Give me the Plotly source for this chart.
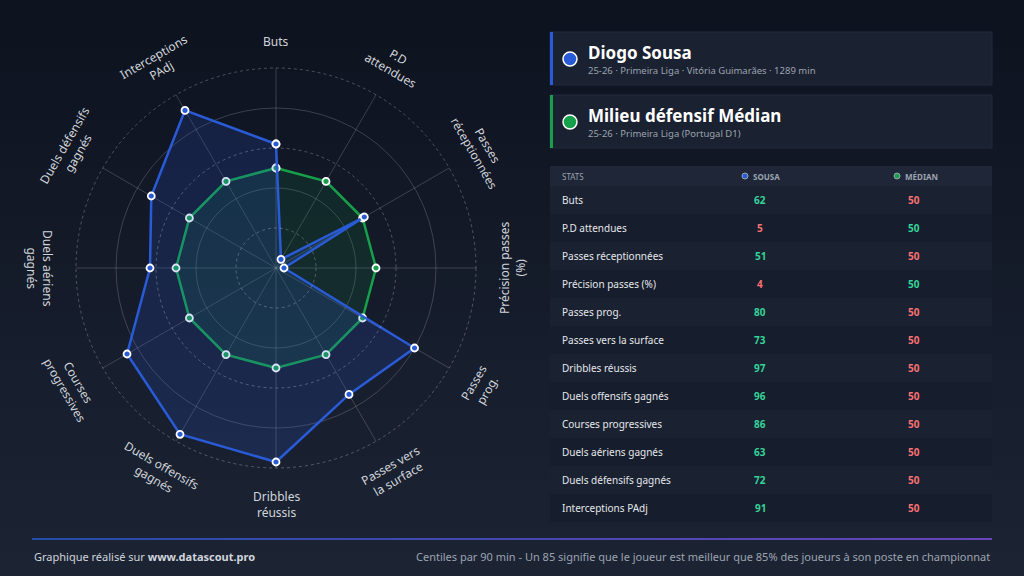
import math
import plotly.graph_objects as go

categories = ["Buts", "P.D attendues", "Passes réceptionnées", "Précision passes (%)", "Passes prog.",
              "Passes vers la surface", "Dribbles réussis", "Duels offensifs gagnés", "Courses progressives",
              "Duels aériens gagnés", "Duels défensifs gagnés", "Interceptions PAdj"]
radar_labels = ["Buts", "P.D<br>attendues", "Passes<br>réceptionnées", "Précision passes<br>(%)", "Passes<br>prog.",
                "Passes vers<br>la surface", "Dribbles<br>réussis", "Duels offensifs<br>gagnés", "Courses<br>progressives",
                "Duels aériens<br>gagnés", "Duels défensifs<br>gagnés", "Interceptions<br>PAdj"]
sousa = [62, 5, 51, 4, 80, 73, 97, 96, 86, 63, 72, 91]
median = [50] * 12

BLUE = "#2a5bd7"
GREEN = "#16a04a"
W, H = 1024, 576
cx, cy, R = 276, 268, 200

fig = go.Figure()
theta = categories + [categories[0]]
fig.add_trace(go.Scatterpolar(r=median + [median[0]], theta=theta, mode="lines+markers",
    line=dict(color=GREEN, width=2.5), fill="toself", fillcolor="rgba(22,160,74,0.13)",
    marker=dict(size=7, color=GREEN, line=dict(color="white", width=1.8)), showlegend=False))
fig.add_trace(go.Scatterpolar(r=sousa + [sousa[0]], theta=theta, mode="lines+markers",
    line=dict(color=BLUE, width=2.5), fill="toself", fillcolor="rgba(42,91,215,0.18)",
    marker=dict(size=7, color=BLUE, line=dict(color="white", width=1.8)), showlegend=False))

fig.update_layout(
    width=W, height=H, margin=dict(l=0, r=0, t=0, b=0),
    paper_bgcolor="#121827", plot_bgcolor="rgba(0,0,0,0)",
    font=dict(family="Noto Sans", color="#e5e7eb"),
    polar=dict(
        domain=dict(x=[(cx - R) / W, (cx + R) / W], y=[1 - (cy + R) / H, 1 - (cy - R) / H]),
        bgcolor="rgba(0,0,0,0)",
        radialaxis=dict(range=[0, 100], showticklabels=False, ticks="", showline=False,
                        tickvals=[40, 80], gridcolor="rgba(255,255,255,0.18)", gridwidth=1),
        angularaxis=dict(direction="clockwise", rotation=90, showticklabels=False, ticks="",
                         showline=False, gridcolor="rgba(255,255,255,0.18)"),
    ),
)

shapes = []
for i in range(24):
    t = i / 23
    c = (int(14 + 14 * t), int(19 + 17 * t), int(32 + 20 * t))
    shapes.append(dict(type="rect", xref="paper", yref="paper", x0=0, x1=1, y0=1 - (i + 1) / 24, y1=1 - i / 24,
                       fillcolor="rgb(%d,%d,%d)" % c, line=dict(width=0), layer="below"))
for rr in [20, 60, 100]:
    r = R * rr / 100
    shapes.append(dict(type="circle", xref="paper", yref="paper",
                       x0=(cx - r) / W, x1=(cx + r) / W, y0=1 - (cy + r) / H, y1=1 - (cy - r) / H,
                       line=dict(color="rgba(255,255,255,0.25)", width=1, dash="dot")))

def rect(x0, y0, x1, y1, color, line=None):
    shapes.append(dict(type="rect", xref="paper", yref="paper", x0=x0 / W, x1=x1 / W,
                       y0=1 - y1 / H, y1=1 - y0 / H, fillcolor=color,
                       line=dict(width=0) if line is None else line))

ann = []
def text(x, y, s, size=11, color="#e5e7eb", anchor="left", angle=0, family="Noto Sans"):
    ann.append(dict(x=x / W, y=1 - y / H, xref="paper", yref="paper", text=s, showarrow=False,
                    xanchor=anchor, yanchor="middle", textangle=angle,
                    font=dict(size=size, color=color, family=family)))

for i, lab in enumerate(radar_labels):
    th = i * 30
    lines = lab.count("<br>") + 1
    rl = 226 if lines == 1 else 236
    x = cx + rl * math.sin(math.radians(th))
    y = cy - rl * math.cos(math.radians(th))
    if th < 90:
        ang = th
    elif th <= 270:
        ang = th - 180
    else:
        ang = th - 360
    ann.append(dict(x=x / W, y=1 - y / H, xref="paper", yref="paper", text=lab, showarrow=False,
                    xanchor="center", yanchor="middle", textangle=ang,
                    font=dict(size=12, color="#d1d5db")))

for (y0, col, title, sub) in [(32, BLUE, "Diogo Sousa", "25-26 · Primeira Liga · Vitória Guimarães · 1289 min"),
                              (95, GREEN, "Milieu défensif Médian", "25-26 · Primeira Liga (Portugal D1)")]:
    rect(550, y0, 992, y0 + 53, "#1a2131", line=dict(color="#232b3c", width=1))
    rect(550, y0, 553, y0 + 53, col)
    shapes.append(dict(type="circle", xref="paper", yref="paper", x0=563 / W, x1=577 / W,
                       y0=1 - (y0 + 34) / H, y1=1 - (y0 + 20) / H, fillcolor=col,
                       line=dict(color="white", width=1.5)))
    text(586, y0 + 20, "<b>" + title + "</b>", size=17, color="#ffffff")
    text(586, y0 + 38, sub, size=9.5, color="#9ca3af")

rect(550, 166, 992, 186, "#1e2637")
text(560, 176, "STATS", size=8, color="#9ca3af")
shapes.append(dict(type="circle", xref="paper", yref="paper", x0=742 / W, x1=748 / W,
                   y0=1 - 179 / H, y1=1 - 173 / H, fillcolor=BLUE, line=dict(color="#9ca3af", width=1)))
text(751, 176, "<b>SOUSA</b>", size=8, color="#9ca3af")
shapes.append(dict(type="circle", xref="paper", yref="paper", x0=894 / W, x1=900 / W,
                   y0=1 - 179 / H, y1=1 - 173 / H, fillcolor=GREEN, line=dict(color="#9ca3af", width=1)))
text(903, 176, "<b>MÉDIAN</b>", size=8, color="#9ca3af")
UP, DOWN = "#34d399", "#f87171"
for i, (c, s, m) in enumerate(zip(categories, sousa, median)):
    y = 200 + 28 * i
    rect(550, y - 14, 992, y + 14, "#1a2131" if i % 2 == 0 else "#161d2c")
    text(560, y, c, size=10, color="#e5e7eb")
    text(760, y, "<b>%d</b>" % s, size=10, color=UP if s >= m else DOWN, anchor="center")
    text(914, y, "<b>%d</b>" % m, size=10, color=UP if m > s else DOWN, anchor="center")

for k in range(40):
    t = k / 39
    col = "rgb(%d,%d,%d)" % (int(42 + 90 * t), int(91 - 10 * t), int(215 + 20 * t))
    shapes.append(dict(type="line", xref="paper", yref="paper", x0=(32 + 24 * k) / W, x1=(32 + 24 * (k + 1)) / W,
                       y0=1 - 539 / H, y1=1 - 539 / H, line=dict(color=col, width=1.5)))
text(32, 556, "Graphique réalisé sur <b>www.datascout.pro</b>", size=11, color="#d1d5db")
text(992, 556, "Centiles par 90 min - Un 85 signifie que le joueur est meilleur que 85% des joueurs à son poste en championnat",
     size=11, color="#9ca3af", anchor="right")

fig.update_layout(shapes=shapes, annotations=ann)
fig.write_html("out.html", config={"displayModeBar": False},
               post_script="document.body.style.margin='0';document.body.style.background='#0e1320';")
